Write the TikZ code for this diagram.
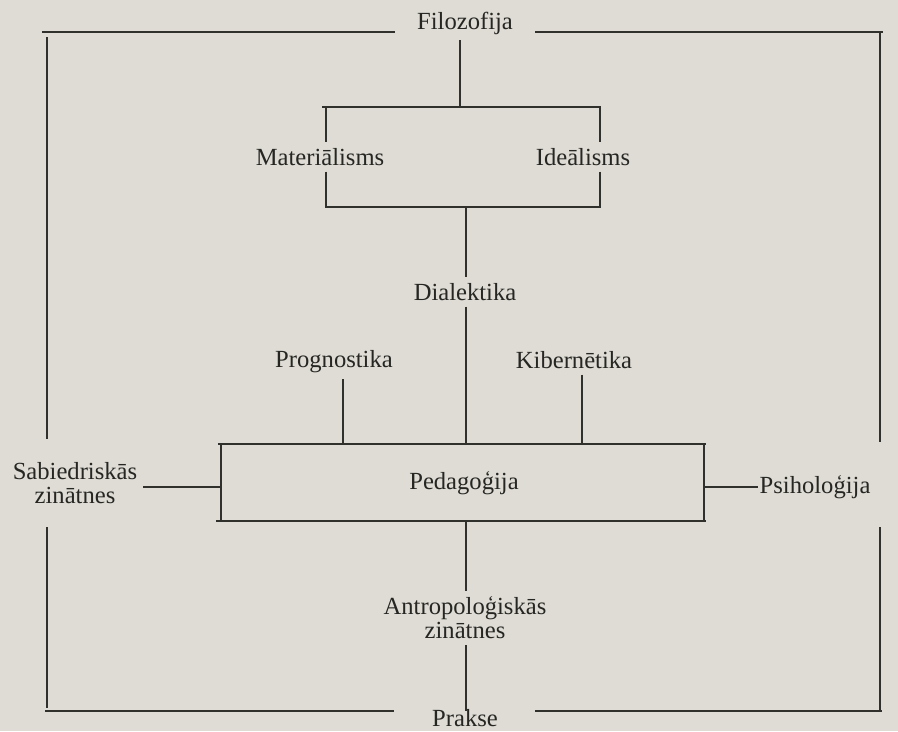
\documentclass[tikz,border=0pt]{standalone}
\usepackage{fontspec}
\usepackage{xcolor}
\usepackage{tikz}

\setmainfont{Liberation Serif}
\definecolor{paper}{RGB}{222,220,212}
\definecolor{ink}{RGB}{48,48,44}
\definecolor{type}{RGB}{38,38,35}
\newcommand{\diagfont}{\fontsize{17.5}{17}\selectfont}

\begin{document}
\begin{tikzpicture}[
  x=0.025cm, y=-0.025cm,
  lbl/.style={inner sep=4pt, font=\diagfont, text=type, align=center},
  bar/.style={draw=ink, line width=1.3pt},
  rule/.style={draw=ink, line width=0.8pt}
]
\useasboundingbox (0,0) rectangle (898,731);
\fill[paper] (0,0) rectangle (898,731);

\node[lbl] (filo) at (465,23) {Filozofija};
\node[lbl] (mat) at (320,157) {Materiālisms};
\node[lbl] (ide) at (583,157) {Ideālisms};
\node[lbl] (dial) at (465,292) {Dialektika};
\node[lbl] (prog) at (334,362) {Prognostika};
\node[lbl] (kib) at (574,360) {Kibernētika};
\node[lbl] (ped) at (464,483) {Pedagoģija};
\node[lbl] (sab) at (75,483) {Sabiedriskās\\zinātnes};
\node[lbl, anchor=west, inner xsep=1pt] (psi) at (758,487) {Psiholoģija};
\node[lbl] (antr) at (465,618) {Antropoloģiskās\\zinātnes};
\node[lbl, anchor=base] (prak) at (465,726) {Prakse};

\coordinate (fL) at (42,32);
\coordinate (fLe) at (395,32);
\coordinate (fRs) at (535,32);
\coordinate (fR) at (883,32);
\coordinate (lA) at (47,37);
\coordinate (lB) at (47,439);
\coordinate (lC) at (47,527);
\coordinate (lD) at (47,708);
\coordinate (rA) at (880,32);
\coordinate (rB) at (880,442);
\coordinate (rC) at (880,527);
\coordinate (rD) at (880,711);
\coordinate (pL) at (45,711);
\coordinate (pLe) at (394,711);
\coordinate (pRs) at (535,711);
\coordinate (pR) at (882,711);
\coordinate (mNW) at (322,107);
\coordinate (mNE) at (601,107);
\coordinate (mSW) at (325,207);
\coordinate (mSE) at (601,207);
\coordinate (mL) at (326,157);
\coordinate (mR) at (600,157);
\coordinate (mTop) at (460,107);
\coordinate (mBot) at (466,207);
\coordinate (bNW) at (218,444);
\coordinate (bNE) at (706,444);
\coordinate (bSW) at (216,521);
\coordinate (bSE) at (706,521);
\coordinate (bL) at (221,487);
\coordinate (bR) at (704,487);
\coordinate (bTop) at (466,444);
\coordinate (bBot) at (466,521);
\coordinate (pg) at (343,444);
\coordinate (kb) at (582,444);
\coordinate (pMid) at (466,711);

\draw[bar] (fL) -- (fLe);
\draw[bar] (fRs) -- (fR);
\draw[bar] (pL) -- (pLe);
\draw[bar] (pRs) -- (pR);
\draw[bar] (mNW) -- (mNE);
\draw[bar] (mSW) -- (mSE);
\draw[bar] (bNW) -- (bNE);
\draw[bar] (bSW) -- (bSE);
\draw[bar] (sab.east |- bL) -- (bL);
\draw[bar] (bR) -- (psi.west);

\draw[rule] (lA) -- (lB);
\draw[rule] (lC) -- (lD);
\draw[rule] (rA) -- (rB);
\draw[rule] (rC) -- (rD);
\draw[rule] (mTop |- filo.south) -- (mTop);
\draw[rule] (mL |- mNW) -- (mL |- mat.north);
\draw[rule] (mL |- mat.south) -- (mL |- mSW);
\draw[rule] (mR |- mNE) -- (mR |- ide.north);
\draw[rule] (mR |- ide.south) -- (mR |- mSE);
\draw[rule] (mBot) -- (mBot |- dial.north);
\draw[rule] (mBot |- dial.south) -- (bTop);
\draw[rule] (pg |- prog.south) -- (pg);
\draw[rule] (kb |- kib.south) -- (kb);
\draw[rule] (bL |- bNW) -- (bL |- bSW);
\draw[rule] (bR |- bNE) -- (bR |- bSE);
\draw[rule] (bBot) -- (antr.north -| bBot);
\draw[rule] (antr.south -| bBot) -- (pMid);
\end{tikzpicture}
\end{document}
